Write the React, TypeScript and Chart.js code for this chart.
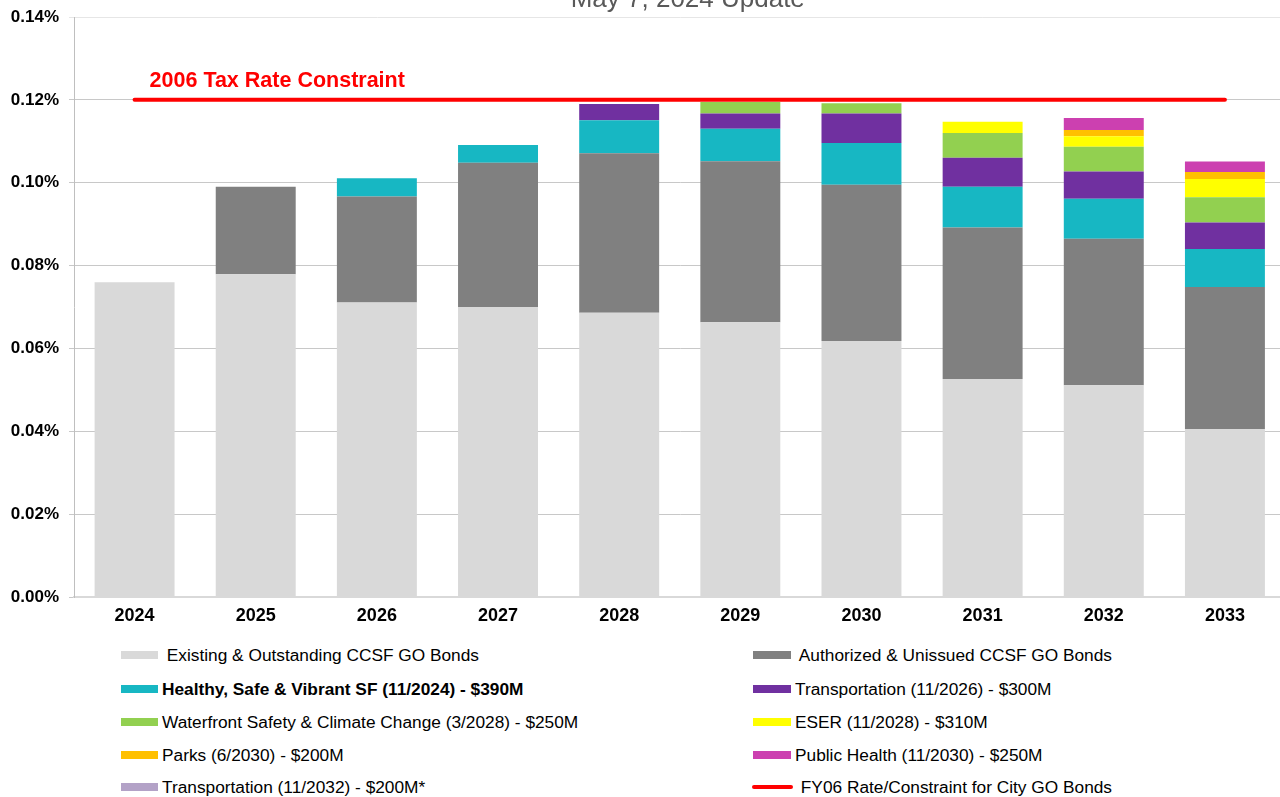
import React, { useEffect, useRef } from "react";
import { Chart, registerables } from "chart.js";

Chart.register(...registerables);

// ---------- data (percent units) ----------
const years = ["2024", "2025", "2026", "2027", "2028", "2029", "2030", "2031", "2032", "2033"];

const existingBonds = [0.0760, 0.0779, 0.0711, 0.0700, 0.0686, 0.0663, 0.0618, 0.0526, 0.0511, 0.0405];
const authorizedBonds = [0, 0.0211, 0.0256, 0.0348, 0.0385, 0.0389, 0.0377, 0.0366, 0.0354, 0.0343];
const healthySafeVibrant = [0, 0, 0.0044, 0.0043, 0.0080, 0.0078, 0.0101, 0.0098, 0.0096, 0.0092];
const transportation2026 = [0, 0, 0, 0, 0.0039, 0.0037, 0.0071, 0.0070, 0.0066, 0.0064];
const waterfront = [0, 0, 0, 0, 0, 0.0028, 0.0025, 0.0060, 0.0060, 0.0061];
const eser = [0, 0, 0, 0, 0, 0, 0, 0.0027, 0.0025, 0.0044];
const parks = [0, 0, 0, 0, 0, 0, 0, 0, 0.0015, 0.0017];
const publicHealth = [0, 0, 0, 0, 0, 0, 0, 0, 0.0029, 0.0025];
const transportation2032 = [0, 0, 0, 0, 0, 0, 0, 0, 0, 0];
const constraintRate = [0.12, 0.12, 0.12, 0.12, 0.12, 0.12, 0.12, 0.12, 0.12, 0.12];

const barSeries = [
  existingBonds,
  authorizedBonds,
  healthySafeVibrant,
  transportation2026,
  waterfront,
  eser,
  parks,
  publicHealth,
  transportation2032,
];

const seriesLabels = [
  " Existing & Outstanding CCSF GO Bonds",
  " Authorized & Unissued CCSF GO Bonds",
  "Healthy, Safe & Vibrant SF (11/2024) - $390M",
  "Transportation (11/2026) - $300M",
  "Waterfront Safety & Climate Change (3/2028) - $250M",
  "ESER (11/2028) - $310M",
  "Parks (6/2030) - $200M",
  "Public Health (11/2030) - $250M",
  "Transportation (11/2032) - $200M*",
  " FY06 Rate/Constraint for City GO Bonds",
];

const seriesColors = [
  "#D9D9D9",
  "#808080",
  "#17B7C3",
  "#7030A0",
  "#92D050",
  "#FFFF00",
  "#FFC000",
  "#CC40B0",
  "#B3A2C7",
  "#FF0000",
];

const legendBold = [false, false, true, false, false, false, false, false, false, false];

const yTickMin = 0;
const yTickMax = 0.14;
const yTickStep = 0.02;

const chartTitle = "May 7, 2024 Update";
const constraintLabel = "2006 Tax Rate Constraint";

const FONT = '"Liberation Sans", Arial, Helvetica, sans-serif';

export default function App() {
  const canvasRef = useRef<HTMLCanvasElement | null>(null);

  useEffect(() => {
    if (!canvasRef.current) return;

    const annotations = {
      id: "annotations",
      afterDraw(chart: any) {
        const ctx = chart.ctx;
        const xs = chart.scales.x;
        const ys = chart.scales.y;
        const area = chart.chartArea;
        ctx.save();
        ctx.font = `26px ${FONT}`;
        ctx.fillStyle = "#595959";
        ctx.textAlign = "center";
        ctx.textBaseline = "alphabetic";
        ctx.fillText(chartTitle, (area.left + area.right) / 2 + 8, 7);
        ctx.font = `bold 21.5px ${FONT}`;
        ctx.fillStyle = "#FF0000";
        ctx.textAlign = "left";
        ctx.fillText(constraintLabel, xs.getPixelForValue(0) + 15, ys.getPixelForValue(constraintRate[0]) - 13);
        ctx.restore();
      },
    };

    const datasets: any[] = barSeries.map((data, i) => ({
      type: "bar",
      label: seriesLabels[i],
      data,
      backgroundColor: seriesColors[i],
      borderWidth: 0,
      stack: "bonds",
      order: 1,
      categoryPercentage: 1,
      barPercentage: 0.66,
    }));
    datasets.push({
      type: "line",
      label: seriesLabels[9],
      data: constraintRate,
      borderColor: seriesColors[9],
      backgroundColor: seriesColors[9],
      borderWidth: 4,
      borderCapStyle: "round",
      pointRadius: 0,
      fill: false,
      stack: "constraint",
      order: 0,
    });

    const chart = new Chart(canvasRef.current, {
      type: "bar",
      data: { labels: years, datasets },
      options: {
        responsive: false,
        animation: false,
        layout: { padding: { top: 17, right: 4.5, left: 0, bottom: 0 } },
        plugins: {
          legend: { display: false },
          tooltip: { enabled: false },
          title: { display: false },
        },
        scales: {
          x: {
            stacked: true,
            grid: { display: false, drawTicks: false },
            border: { display: true, color: "#D9D9D9", width: 2 },
            ticks: {
              color: "#000000",
              font: { family: FONT, size: 18, weight: "bold" },
              padding: 8,
              maxRotation: 0,
            },
            afterFit(scale: any) {
              scale.height = 43;
            },
          },
          y: {
            stacked: true,
            min: yTickMin,
            max: yTickMax,
            grid: {
              color: (c: any) => (c.tick && Math.abs(c.tick.value - yTickMax) < 1e-9 ? "#E6E6E6" : "#C8C8C8"),
              lineWidth: 1,
              drawTicks: true,
              tickLength: 5,
            },
            border: { display: true, color: "#BFBFBF", width: 1 },
            ticks: {
              stepSize: yTickStep,
              color: "#000000",
              font: { family: FONT, size: 17, weight: "bold" },
              padding: 10,
              callback: (v: any) => Number(v).toFixed(2) + "%",
            },
            afterFit(scale: any) {
              scale.width = 74;
              scale.paddingTop = 0;
              scale.paddingBottom = 0;
            },
          },
        },
      },
      plugins: [annotations],
    });

    return () => chart.destroy();
  }, []);

  const rowCenters = [655, 689, 722, 755, 787];

  return (
    <div
      style={{
        position: "fixed",
        left: 0,
        top: 0,
        width: 1280,
        height: 797,
        overflow: "hidden",
        background: "#ffffff",
      }}
    >
      <canvas
        ref={canvasRef}
        width={1290}
        height={640}
        style={{ position: "absolute", left: 0, top: 0, width: 1290, height: 640 }}
      />
      {seriesLabels.map((label, i) => {
        const col = i % 2;
        const row = Math.floor(i / 2);
        const isLine = i === 9;
        const left = col === 0 ? 121 : isLine ? 752 : 753;
        const markerW = col === 0 ? 37 : isLine ? 41 : 38;
        return (
          <div
            key={i}
            style={{
              position: "absolute",
              left,
              top: rowCenters[row] - 11,
              height: 22,
              display: "flex",
              alignItems: "center",
              whiteSpace: "pre",
              fontFamily: FONT,
              fontSize: 17.3,
              color: "#000000",
              fontWeight: legendBold[i] ? "bold" : "normal",
            }}
          >
            <span
              style={{
                display: "inline-block",
                width: markerW,
                height: isLine ? 4 : 8,
                borderRadius: isLine ? 2 : 0,
                background: seriesColors[i],
                marginRight: isLine ? 3 : 4,
              }}
            />
            <span>{label}</span>
          </div>
        );
      })}
    </div>
  );
}
